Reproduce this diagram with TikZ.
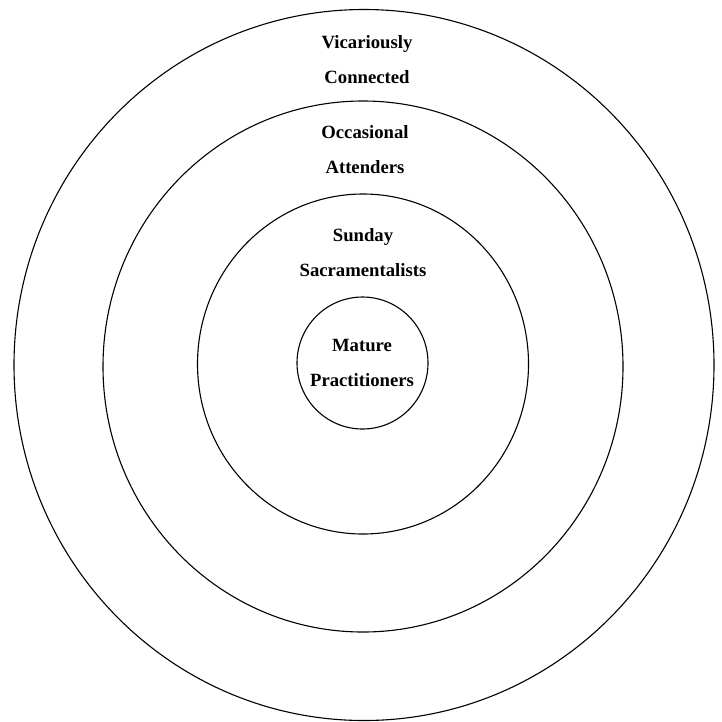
\documentclass[tikz,border=0pt]{standalone}
\usepackage{fontspec}
\setmainfont{Liberation Serif}
\begin{document}
\begin{tikzpicture}[x=1pt,y=-1pt,line width=1.1pt,
    ring/.style={draw=black},
    label/.style={align=center,font=\fontsize{18.7}{35}\selectfont\bfseries}]
      \useasboundingbox (0,0) rectangle (722,721);
      \draw[ring] (364,365) ellipse [x radius=350,y radius=355.5];
      \draw[ring] (363,366.5) ellipse [x radius=260,y radius=265.5];
      \draw[ring] (363,364) ellipse [x radius=165.5,y radius=170];
      \draw[ring] (362.5,363) ellipse [x radius=65.5,y radius=66];
      \node[label] (vicarious) at (367,60) {Vicariously\\Connected};
      \node[label] (occasional) at (365,150) {Occasional\\Attenders};
      \node[label] (sunday) at (363,252.5) {Sunday\\Sacramentalists};
      \node[label] (mature) at (362,362.5) {Mature\\Practitioners};
    \end{tikzpicture}
\end{document}
